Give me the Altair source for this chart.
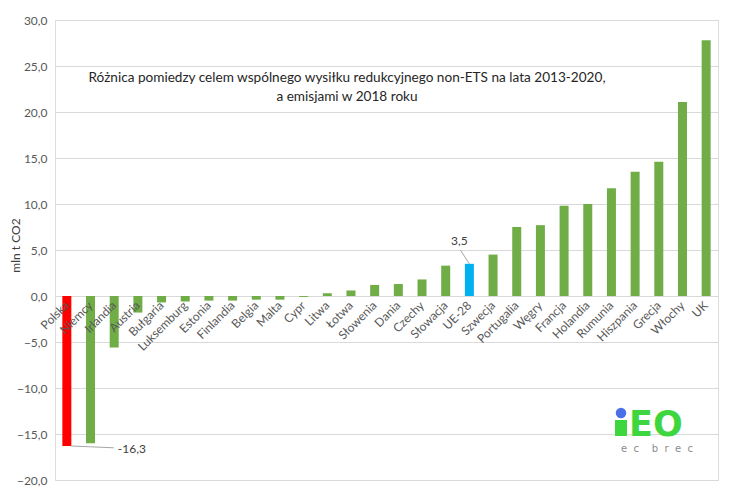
import altair as alt
import pandas as pd

countries = ["Polska", "Niemcy", "Irlandia", "Austria", "Bułgaria", "Luksemburg", "Estonia",
             "Finlandia", "Belgia", "Malta", "Cypr", "Litwa", "Łotwa", "Słowenia", "Dania",
             "Czechy", "Słowacja", "UE-28", "Szwecja", "Portugalia", "Węgry", "Francja",
             "Holandia", "Rumunia", "Hiszpania", "Grecja", "Włochy", "UK"]
values = [-16.3, -16.0, -5.6, -1.8, -0.7, -0.6, -0.5, -0.5, -0.4, -0.4, -0.1, 0.3, 0.6, 1.2,
          1.3, 1.8, 3.3, 3.5, 4.5, 7.5, 7.7, 9.8, 10.0, 11.7, 13.5, 14.6, 21.1, 27.8]
groups = ["pl"] + ["other"] * 16 + ["eu"] + ["other"] * 10
y_ticks = [-20, -15, -10, -5, 0, 5, 10, 15, 20, 25, 30]
title_lines = ["Różnica pomiedzy celem wspólnego wysiłku redukcyjnego non-ETS na lata 2013-2020,",
               "a emisjami w 2018 roku"]

df = pd.DataFrame({"kraj": countries, "v": values, "g": groups})
one = pd.DataFrame({"a": [0]})

W, H = 663, 460
FONT = "Lato"
GREY = "#595959"
LOGO_GREEN = "#3ed63e"

xenc = alt.X("kraj:N", sort=countries, title=None,
             scale=alt.Scale(paddingInner=0, paddingOuter=0),
             axis=alt.Axis(orient="bottom", offset=-184, domain=False, ticks=False,
                           labelAngle=315, labelAlign="right", labelBaseline="middle",
                           labelPadding=7, labelFont=FONT, labelFontSize=12,
                           labelColor=GREY, zindex=1, grid=False))
yscale = alt.Scale(domain=[-20, 30], nice=False)
yenc = alt.Y("v:Q", scale=yscale, title="mln t CO2",
             axis=alt.Axis(values=y_ticks, domain=False, ticks=False, gridColor="#d9d9d9",
                           labelExpr="replace(format(datum.value, '.1f'), '.', ',')",
                           labelFont=FONT, labelFontSize=12, labelColor=GREY, labelPadding=8,
                           titleFont=FONT, titleFontSize=12, titleColor="#404040",
                           titleFontWeight="normal", titleX=-33, titleY=225))

bars = alt.Chart(df).mark_bar(size=9).encode(
    x=xenc, y=yenc,
    color=alt.Color("g:N", scale=alt.Scale(domain=["pl", "other", "eu"],
                                           range=["#ff0000", "#70ad47", "#00b0f0"]),
                    legend=None),
)

ann = pd.DataFrame({
    "kraj": ["UE-28", "Polska"],
    "v": [3.5, -16.3],
    "lab": ["3,5", "-16,3"],
})
ann_eu = alt.Chart(ann[ann.kraj == "UE-28"])
ann_pl = alt.Chart(ann[ann.kraj == "Polska"])

lead_eu = ann_eu.mark_rule(color="#a6a6a6", strokeWidth=1, x2Offset=-9).encode(
    x=alt.X("kraj:N", sort=countries), x2="kraj", y="v:Q",
    y2=alt.Y2(datum=5.0))
lead_pl = ann_pl.mark_rule(color="#a6a6a6", strokeWidth=1, xOffset=4, x2Offset=47).encode(
    x=alt.X("kraj:N", sort=countries), x2="kraj", y="v:Q",
    y2=alt.Y2(datum=-16.5))
txt_eu = ann_eu.mark_text(font=FONT, fontSize=12, color="#404040", dx=-10, dy=-23,
                          baseline="middle").encode(
    x=alt.X("kraj:N", sort=countries), y="v:Q", text="lab:N")
txt_pl = ann_pl.mark_text(font=FONT, fontSize=12, color="#404040", dx=51, dy=3,
                          align="left", baseline="middle").encode(
    x=alt.X("kraj:N", sort=countries), y="v:Q", text="lab:N")

t1 = alt.Chart(one).mark_text(font=FONT, fontSize=13.6, color="#262626").encode(
    x=alt.value(292), y=alt.value(58), text=alt.value(title_lines[0]))
t2 = alt.Chart(one).mark_text(font=FONT, fontSize=13.6, color="#262626").encode(
    x=alt.value(292), y=alt.value(77), text=alt.value(title_lines[1]))

logo_i = alt.Chart(one).mark_rect(color=LOGO_GREEN).encode(
    x=alt.value(560), x2=alt.value(572), y=alt.value(400), y2=alt.value(416))
logo_eo = alt.Chart(one).mark_text(font="DejaVu Sans", fontWeight="bold", fontSize=35,
                                   color=LOGO_GREEN, align="left", baseline="alphabetic").encode(
    x=alt.value(574), y=alt.value(416), text=alt.value("EO"))
logo_dot = alt.Chart(one).mark_point(filled=True, color="#4a6ee8", size=110, opacity=1).encode(
    x=alt.value(566), y=alt.value(393))
logo_sub = alt.Chart(one).mark_text(font="DejaVu Sans", fontSize=10, color="#8c8c8c",
                                    align="left", baseline="middle").encode(
    x=alt.value(566), y=alt.value(429),
    text=alt.value("e\u00a0\u00a0c\u00a0\u00a0\u00a0\u00a0b\u00a0\u00a0r\u00a0\u00a0e\u00a0\u00a0c"))

chart = alt.layer(bars, lead_eu, lead_pl, txt_eu, txt_pl, t1, t2,
                  logo_i, logo_eo, logo_dot, logo_sub).properties(
    width=W, height=H,
    autosize=alt.AutoSizeParams(type="none"),
    padding={"left": 47, "top": 12, "right": 3, "bottom": 7},
).configure_view(stroke=None).configure(background="white")

chart.save("out.html", embed_options={"renderer": "svg", "actions": False})
